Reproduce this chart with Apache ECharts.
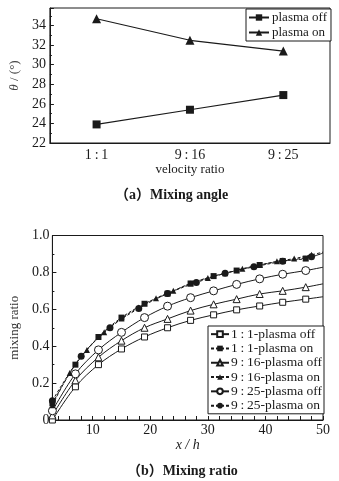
<!DOCTYPE html>
<html>
<head>
<meta charset="utf-8">
<script src="https://cdn.jsdelivr.net/npm/echarts@6/dist/echarts.min.js"></script>
<style>
    html, body { margin: 0; padding: 0; background: #fff; }
    #main { width: 339px; height: 481px; }
</style>
</head>
<body>
<div id="main"></div>
<script>
// (a) mixing angle
const ratios = ['1\u2009:\u20091', '9\u2009:\u200916', '9\u2009:\u200925']
const angleOff = [23.9, 25.4, 26.9]
const angleOn = [34.7, 32.5, 31.4]

// (b) mixing ratio, x / h (last point is the plot edge, no marker)
const xEvery4 = [3, 7, 11, 15, 19, 23, 27, 31, 35, 39, 43, 47, 50]
const off11 = [0.0, 0.18, 0.30, 0.385, 0.45, 0.50, 0.54, 0.57, 0.597, 0.618, 0.638, 0.655, 0.668]
const off916 = [0.025, 0.215, 0.34, 0.43, 0.50, 0.548, 0.593, 0.627, 0.655, 0.683, 0.70, 0.72, 0.738]
const off925 = [0.05, 0.25, 0.38, 0.475, 0.555, 0.617, 0.663, 0.70, 0.735, 0.765, 0.79, 0.81, 0.828]
const on11 = [0.09, 0.30, 0.45, 0.555, 0.63, 0.685, 0.74, 0.78, 0.81, 0.84, 0.862, 0.875, 0.905]

const xEvery3 = [3, 6, 9, 12, 15, 18, 21, 24, 27, 30, 33, 36, 39, 42, 45, 48, 50]
const on916 = [0.08, 0.255, 0.38, 0.475, 0.55, 0.61, 0.66, 0.70, 0.74, 0.77, 0.795, 0.82, 0.84, 0.86, 0.875, 0.895, 0.91]

const xEvery5 = [3, 8, 13, 18, 23, 28, 33, 38, 43, 48, 50]
const on925 = [0.105, 0.345, 0.50, 0.605, 0.685, 0.745, 0.795, 0.83, 0.86, 0.885, 0.905]

const xLabels = [10, 20, 30, 40, 50]
const legendNames = ['1\u2009:\u20091-plasma off', '1\u2009:\u20091-plasma on', '9\u2009:\u200916-plasma off',
                     '9\u2009:\u200916-plasma on', '9\u2009:\u200925-plasma off', '9\u2009:\u200925-plasma on']

const FONT = 'Liberation Serif, DejaVu Serif, serif'
const INK = '#1a1a1a'

const toPoints = (xs, ys) => ys.map((y, i) => (
    i === ys.length - 1 ? { value: [xs[i], y], symbol: 'none' } : [xs[i], y]
))

const tickList = []
for (let v = 4; v <= 50; v += 2) tickList.push(v)

const openItem = { color: '#fff', borderColor: INK, borderWidth: 1 }
const fillItem = { color: INK, borderColor: INK, borderWidth: 0 }

const mixSeries = (name, xs, ys, symbol, size, open) => ({
    name,
    type: 'line',
    xAxisIndex: 1,
    yAxisIndex: 1,
    data: toPoints(xs, ys),
    smooth: 0.35,
    symbol,
    symbolSize: size,
    showAllSymbol: true,
    itemStyle: open ? openItem : fillItem,
    lineStyle: { color: INK, width: 1, type: open ? 'solid' : [3, 2] },
    emphasis: { disabled: true },
    z: open ? 3 : 4
})

const chart = echarts.init(document.getElementById('main'))

chart.setOption({
    animation: false,
    textStyle: { fontFamily: FONT },
    title: [
        { text: '（a）Mixing angle', left: 110, top: 183,
          textStyle: { fontFamily: 'Liberation Serif, Noto Sans CJK SC, serif', fontSize: 14, fontWeight: 'bold', color: INK } },
        { text: '（b）Mixing ratio', left: 122, top: 459,
          textStyle: { fontFamily: 'Liberation Serif, Noto Sans CJK SC, serif', fontSize: 14, fontWeight: 'bold', color: INK } }
    ],
    grid: [
        { left: 41, right: 9, top: 8, height: 135, show: true, borderColor: INK, borderWidth: 1 },
        { left: 45, right: 16, top: 235.5, height: 184.5, show: true, borderColor: INK, borderWidth: 1 }
    ],
    legend: [
        {
            data: ['plasma off', 'plasma on'],
            orient: 'vertical',
            left: 246, top: 9,
            padding: [2, 4, 2, 2],
            itemWidth: 20, itemHeight: 8, itemGap: 2,
            backgroundColor: '#fff',
            borderColor: INK, borderWidth: 1,
            textStyle: { fontFamily: FONT, fontSize: 13, lineHeight: 13, color: INK, padding: [0, 0, 0, -2] }
        },
        {
            data: legendNames,
            orient: 'vertical',
            left: 208, top: 326,
            padding: [1, 2, 1, 2],
            itemWidth: 18, itemHeight: 7, itemGap: 0,
            backgroundColor: '#fff',
            borderColor: INK, borderWidth: 1,
            textStyle: { fontFamily: FONT, fontSize: 13.5, lineHeight: 14.3, color: INK, padding: [0, 0, 0, -3] }
        }
    ],
    xAxis: [
        {
            type: 'category',
            gridIndex: 0,
            data: ratios,
            boundaryGap: true,
            axisLine: { lineStyle: { color: INK } },
            axisTick: { inside: true, alignWithLabel: true, length: 4, lineStyle: { color: INK } },
            axisLabel: { color: INK, fontSize: 14, margin: 5 },
            name: 'velocity ratio',
            nameLocation: 'middle',
            nameGap: 17,
            nameTextStyle: { color: INK, fontSize: 13 }
        },
        {
            type: 'value',
            gridIndex: 1,
            min: 3, max: 50,
            splitLine: { show: false },
            axisLine: { lineStyle: { color: INK } },
            axisTick: { inside: true, length: 4, customValues: tickList, lineStyle: { color: INK } },
            axisLabel: { color: INK, fontSize: 14, margin: 3, customValues: xLabels },
            name: 'x / h',
            nameLocation: 'middle',
            nameGap: 16,
            nameTextStyle: { color: INK, fontSize: 14, fontStyle: 'italic' }
        }
    ],
    yAxis: [
        {
            type: 'value',
            gridIndex: 0,
            min: 22, max: 35.8, interval: 2,
            splitLine: { show: false },
            axisLine: { show: true, lineStyle: { color: INK } },
            axisTick: { show: true, inside: true, length: 4, lineStyle: { color: INK } },
            minorTick: { show: true, splitNumber: 2, length: 2, lineStyle: { color: INK } },
            axisLabel: { color: INK, fontSize: 14, margin: 4, showMaxLabel: false },
            name: '{i|θ} / (°)',
            nameLocation: 'middle',
            nameGap: 22,
            nameTextStyle: {
                color: '#444', fontSize: 13,
                rich: { i: { fontStyle: 'italic', fontSize: 13, color: '#444', fontFamily: FONT } }
            }
        },
        {
            type: 'value',
            gridIndex: 1,
            min: 0, max: 1, interval: 0.2,
            splitLine: { show: false },
            axisLine: { show: true, lineStyle: { color: INK } },
            axisTick: { show: true, inside: true, length: 4, lineStyle: { color: INK } },
            minorTick: { show: true, splitNumber: 2, length: 2, lineStyle: { color: INK } },
            axisLabel: {
                color: INK, fontSize: 14, margin: 3,
                formatter: (v) => (v === 0 ? '0' : v.toFixed(1))
            },
            name: 'mixing ratio',
            nameLocation: 'middle',
            nameGap: 28,
            nameTextStyle: { color: '#333', fontSize: 13 }
        }
    ],
    series: [
        {
            name: 'plasma off', type: 'line', xAxisIndex: 0, yAxisIndex: 0,
            data: angleOff, symbol: 'rect', symbolSize: 8,
            itemStyle: fillItem, lineStyle: { color: INK, width: 1.2 },
            emphasis: { disabled: true }
        },
        {
            name: 'plasma on', type: 'line', xAxisIndex: 0, yAxisIndex: 0,
            data: angleOn, symbol: 'triangle', symbolSize: 9,
            itemStyle: fillItem, lineStyle: { color: INK, width: 1.2 },
            emphasis: { disabled: true }
        },
        mixSeries(legendNames[0], xEvery4, off11, 'rect', 6, true),
        mixSeries(legendNames[1], xEvery4, on11, 'rect', 6, false),
        mixSeries(legendNames[2], xEvery4, off916, 'triangle', 7, true),
        mixSeries(legendNames[3], xEvery3, on916, 'triangle', 6, false),
        mixSeries(legendNames[4], xEvery4, off925, 'circle', 8, true),
        mixSeries(legendNames[5], xEvery5, on925, 'circle', 7, false)
    ]
})
</script>
</body>
</html>
